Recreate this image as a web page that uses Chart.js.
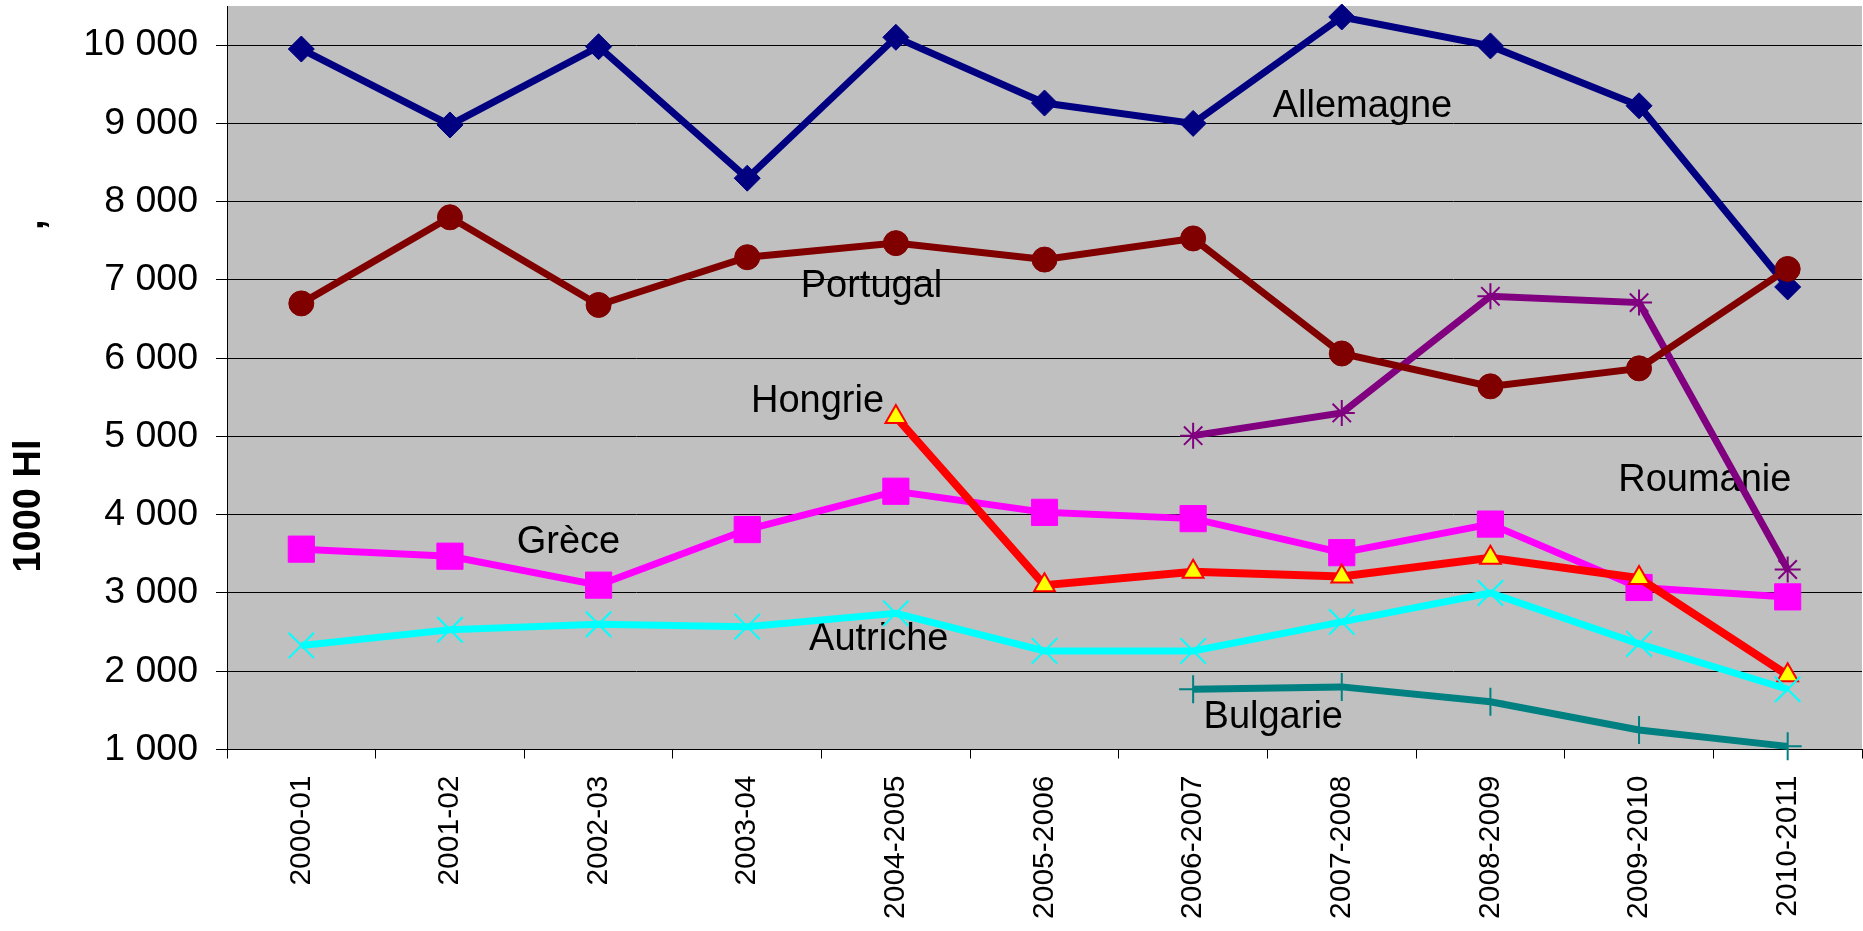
<!DOCTYPE html>
<html lang="fr">
<head>
<meta charset="UTF-8">
<title>Production en 1000 Hl</title>
<script src="https://cdn.jsdelivr.net/npm/chart.js"></script>
<style>
  body { margin: 0; background: #fff; }
  #wrap { position: relative; width: 1863px; height: 931px; }
</style>
</head>
<body>
<div id="wrap"><canvas id="chart"></canvas></div>
<script>
  // seasons on the x axis
  const seasons = ['2000-01', '2001-02', '2002-03', '2003-04', '2004-2005', '2005-2006',
                   '2006-2007', '2007-2008', '2008-2009', '2009-2010', '2010-2011'];

  // values in 1000 Hl
  const allemagne = [9950, 8980, 9980, 8300, 10100, 9260, 9000, 10360, 9990, 9225, 6910];
  const portugal  = [6700, 7800, 6680, 7290, 7470, 7260, 7530, 6060, 5640, 5870, 7140];
  const roumanie  = [null, null, null, null, null, null, 5010, 5300, 6790, 6710, 3300];
  const grece     = [3560, 3470, 3100, 3810, 4300, 4030, 3950, 3515, 3880, 3070, 2950];
  const hongrie   = [null, null, null, null, 5250, 3100, 3270, 3210, 3450, 3190, 1950];
  const autriche  = [2330, 2530, 2600, 2570, 2740, 2260, 2260, 2630, 3000, 2350, 1770];
  const bulgarie  = [null, null, null, null, null, null, 1770, 1800, 1610, 1250, 1040];

  // y axis
  const yMin = 1000, yMax = 10500;
  const yTicks = [1000, 2000, 3000, 4000, 5000, 6000, 7000, 8000, 9000, 10000];
  const yTitle = '1000 Hl';

  // names written inside the plot, anchored in data units (category index, value)
  const seriesNames = ['Allemagne', 'Portugal', 'Hongrie', 'Grèce', 'Autriche', 'Bulgarie', 'Roumanie'];
  const nameIdx     = [6.535, 3.36, 3.025, 1.449, 3.416, 6.07, 8.86];
  const nameVal     = [9088, 6780, 5317, 3508, 2272, 1275, 4299];

  const FONT = "'Liberation Sans', Arial, sans-serif";

  function fmt(v) {
    return String(v).replace(/\B(?=(\d{3})+(?!\d))/g, ' ');
  }

  function series(label, data, color, style, radius, extra) {
    return Object.assign({
      label: label,
      data: data,
      borderColor: color,
      backgroundColor: color,
      borderWidth: 7,
      pointStyle: style,
      pointRadius: radius,
      pointHoverRadius: radius,
      pointBackgroundColor: color,
      pointBorderColor: color,
      pointBorderWidth: 1,
      tension: 0,
      clip: false
    }, extra || {});
  }

  const plotBg = {
    id: 'plotBg',
    beforeDraw(chart) {
      const { ctx, chartArea: a } = chart;
      ctx.save();
      ctx.fillStyle = '#c0c0c0';
      ctx.fillRect(a.left, a.top, a.right - a.left, a.bottom - a.top);
      ctx.restore();
    }
  };

  const seriesLabels = {
    id: 'seriesLabels',
    beforeDatasetsDraw(chart) {
      const { ctx, scales } = chart;
      ctx.save();
      ctx.fillStyle = '#000';
      ctx.font = '38px ' + FONT;
      ctx.textAlign = 'left';
      ctx.textBaseline = 'alphabetic';
      seriesNames.forEach((name, i) => {
        ctx.fillText(name, scales.x.getPixelForValue(nameIdx[i]), scales.y.getPixelForValue(nameVal[i]));
      });
      ctx.restore();
    }
  };

  const axisTitle = {
    id: 'axisTitle',
    afterDraw(chart) {
      const { ctx } = chart;
      ctx.save();
      ctx.fillStyle = '#000';
      ctx.font = 'bold 38px ' + FONT;
      ctx.translate(29.5, 506);
      ctx.rotate(-Math.PI / 2);
      ctx.textAlign = 'center';
      ctx.textBaseline = 'middle';
      ctx.fillText(yTitle, 0, 0);
      ctx.restore();
      // stray mark left of the axis
      ctx.save();
      ctx.fillStyle = '#000';
      ctx.font = 'bold 38px ' + FONT;
      ctx.translate(43, 230);
      ctx.rotate(-Math.PI / 2);
      ctx.textAlign = 'left';
      ctx.textBaseline = 'alphabetic';
      ctx.fillText(',', 0, 0);
      ctx.restore();
    }
  };

  new Chart(document.getElementById('chart'), {
    type: 'line',
    data: {
      labels: seasons,
      datasets: [
        series('Autriche', autriche, '#00ffff', 'crossRot', 18, { pointBorderWidth: 2, order: 1 }),
        series('Hongrie', hongrie, '#ff0000', 'triangle', 12, {
          borderWidth: 8, pointBackgroundColor: '#ffff00', pointBorderColor: '#ff0000', pointBorderWidth: 2, order: 2 }),
        series('Grèce', grece, '#ff00ff', 'rect', 18.5, { order: 3 }),
        series('Bulgarie', bulgarie, '#008080', 'cross', 14, { pointBorderWidth: 2, order: 4 }),
        series('Portugal', portugal, '#800000', 'circle', 12.5, { order: 5 }),
        series('Roumanie', roumanie, '#800080', 'star', 13, { pointBorderWidth: 2, order: 6 }),
        series('Allemagne', allemagne, '#000080', 'rectRot', 13, { order: 7 })
      ]
    },
    options: {
      responsive: true,
      maintainAspectRatio: false,
      animation: false,
      layout: { autoPadding: false, padding: { top: 6, right: 1, bottom: 0, left: 0 } },
      plugins: {
        legend: { display: false },
        tooltip: { enabled: false }
      },
      scales: {
        x: {
          offset: true,
          grid: { offset: true, drawOnChartArea: false, drawTicks: true, tickLength: 9, color: '#000' },
          border: { display: true, color: '#000', width: 1 },
          ticks: {
            autoSkip: false, minRotation: 90, maxRotation: 90, padding: 17,
            color: '#000', font: { family: FONT, size: 30 }
          },
          afterFit(scale) {
            scale.height = 181.5;
            scale.paddingLeft = 0;
            scale.paddingRight = 0;
          }
        },
        y: {
          min: yMin,
          max: yMax,
          grid: { color: '#000', tickLength: 11, drawTicks: true },
          border: { display: true, color: '#000', width: 1 },
          ticks: {
            autoSkip: false, padding: 18, color: '#000',
            font: { family: FONT, size: 37.5 },
            callback: (v) => fmt(v)
          },
          afterBuildTicks(scale) {
            scale.ticks = yTicks.map(v => ({ value: v }));
          },
          afterFit(scale) {
            scale.width = 227;
            scale.paddingTop = 0;
            scale.paddingBottom = 0;
          }
        }
      }
    },
    plugins: [plotBg, seriesLabels, axisTitle]
  });
</script>
</body>
</html>
